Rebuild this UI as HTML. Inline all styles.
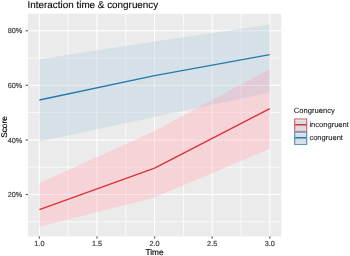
<!DOCTYPE html>
<html><head><meta charset="utf-8"><style>
html,body{margin:0;padding:0;background:#fff;width:350px;height:256px;overflow:hidden}
svg{display:block;font-family:"Liberation Sans",sans-serif}
svg{will-change:transform} text{text-rendering:geometricPrecision;paint-order:stroke}
</style></head><body>
<svg width="350" height="256" viewBox="0 0 350 256">
<defs><clipPath id="cb"><polygon points="39.40,59.30 154.60,41.50 269.80,24.40 269.80,92.50 154.60,117.00 39.40,141.50"/></clipPath></defs>
<rect x="27.9" y="13.75" width="253.4" height="222.65" fill="#EBEBEB"/>
<line x1="68.20" y1="13.75" x2="68.20" y2="236.4" stroke="#fff" stroke-width="0.6"/>
<line x1="125.80" y1="13.75" x2="125.80" y2="236.4" stroke="#fff" stroke-width="0.6"/>
<line x1="183.40" y1="13.75" x2="183.40" y2="236.4" stroke="#fff" stroke-width="0.6"/>
<line x1="241.00" y1="13.75" x2="241.00" y2="236.4" stroke="#fff" stroke-width="0.6"/>
<line x1="27.9" y1="58.04" x2="281.3" y2="58.04" stroke="#fff" stroke-width="0.6"/>
<line x1="27.9" y1="112.62" x2="281.3" y2="112.62" stroke="#fff" stroke-width="0.6"/>
<line x1="27.9" y1="167.21" x2="281.3" y2="167.21" stroke="#fff" stroke-width="0.6"/>
<line x1="27.9" y1="221.79" x2="281.3" y2="221.79" stroke="#fff" stroke-width="0.6"/>
<line x1="39.40" y1="13.75" x2="39.40" y2="236.4" stroke="#fff" stroke-width="0.95"/>
<line x1="97.00" y1="13.75" x2="97.00" y2="236.4" stroke="#fff" stroke-width="0.95"/>
<line x1="154.60" y1="13.75" x2="154.60" y2="236.4" stroke="#fff" stroke-width="0.95"/>
<line x1="212.20" y1="13.75" x2="212.20" y2="236.4" stroke="#fff" stroke-width="0.95"/>
<line x1="269.80" y1="13.75" x2="269.80" y2="236.4" stroke="#fff" stroke-width="0.95"/>
<line x1="27.9" y1="30.75" x2="281.3" y2="30.75" stroke="#fff" stroke-width="0.95"/>
<line x1="27.9" y1="85.33" x2="281.3" y2="85.33" stroke="#fff" stroke-width="0.95"/>
<line x1="27.9" y1="139.92" x2="281.3" y2="139.92" stroke="#fff" stroke-width="0.95"/>
<line x1="27.9" y1="194.50" x2="281.3" y2="194.50" stroke="#fff" stroke-width="0.95"/>
<polygon points="39.40,183.00 154.60,131.00 269.80,69.10 269.80,148.75 154.60,197.50 39.40,226.80" fill="rgb(246,211,215)"/>
<polygon points="39.40,59.30 154.60,41.50 269.80,24.40 269.80,92.50 154.60,117.00 39.40,141.50" fill="rgb(213,224,231)"/>
<polygon points="39.40,183.00 154.60,131.00 269.80,69.10 269.80,148.75 154.60,197.50 39.40,226.80" fill="rgb(226,202,214)" clip-path="url(#cb)"/>
<g><line x1="68.20" y1="13.75" x2="68.20" y2="236.4" stroke="#fff" stroke-width="0.6" stroke-opacity="0.45"/><line x1="125.80" y1="13.75" x2="125.80" y2="236.4" stroke="#fff" stroke-width="0.6" stroke-opacity="0.45"/><line x1="183.40" y1="13.75" x2="183.40" y2="236.4" stroke="#fff" stroke-width="0.6" stroke-opacity="0.45"/><line x1="241.00" y1="13.75" x2="241.00" y2="236.4" stroke="#fff" stroke-width="0.6" stroke-opacity="0.45"/><line x1="27.9" y1="58.04" x2="281.3" y2="58.04" stroke="#fff" stroke-width="0.6" stroke-opacity="0.45"/><line x1="27.9" y1="112.62" x2="281.3" y2="112.62" stroke="#fff" stroke-width="0.6" stroke-opacity="0.45"/><line x1="27.9" y1="167.21" x2="281.3" y2="167.21" stroke="#fff" stroke-width="0.6" stroke-opacity="0.45"/><line x1="27.9" y1="221.79" x2="281.3" y2="221.79" stroke="#fff" stroke-width="0.6" stroke-opacity="0.45"/><line x1="39.40" y1="13.75" x2="39.40" y2="236.4" stroke="#fff" stroke-width="0.95" stroke-opacity="0.45"/><line x1="97.00" y1="13.75" x2="97.00" y2="236.4" stroke="#fff" stroke-width="0.95" stroke-opacity="0.45"/><line x1="154.60" y1="13.75" x2="154.60" y2="236.4" stroke="#fff" stroke-width="0.95" stroke-opacity="0.45"/><line x1="212.20" y1="13.75" x2="212.20" y2="236.4" stroke="#fff" stroke-width="0.95" stroke-opacity="0.45"/><line x1="269.80" y1="13.75" x2="269.80" y2="236.4" stroke="#fff" stroke-width="0.95" stroke-opacity="0.45"/><line x1="27.9" y1="30.75" x2="281.3" y2="30.75" stroke="#fff" stroke-width="0.95" stroke-opacity="0.45"/><line x1="27.9" y1="85.33" x2="281.3" y2="85.33" stroke="#fff" stroke-width="0.95" stroke-opacity="0.45"/><line x1="27.9" y1="139.92" x2="281.3" y2="139.92" stroke="#fff" stroke-width="0.95" stroke-opacity="0.45"/><line x1="27.9" y1="194.50" x2="281.3" y2="194.50" stroke="#fff" stroke-width="0.95" stroke-opacity="0.45"/></g>
<polyline points="39.40,209.70 154.60,168.20 269.80,108.70" fill="none" stroke="rgb(218,50,54)" stroke-width="1.35" stroke-linejoin="round"/>
<polyline points="39.40,100.00 154.60,75.70 269.80,54.70" fill="none" stroke="rgb(36,121,176)" stroke-width="1.35" stroke-linejoin="round"/>
<line x1="39.40" y1="236.4" x2="39.40" y2="238.60" stroke="#666" stroke-width="1.3"/>
<line x1="97.00" y1="236.4" x2="97.00" y2="238.60" stroke="#666" stroke-width="1.3"/>
<line x1="154.60" y1="236.4" x2="154.60" y2="238.60" stroke="#666" stroke-width="1.3"/>
<line x1="212.20" y1="236.4" x2="212.20" y2="238.60" stroke="#666" stroke-width="1.3"/>
<line x1="269.80" y1="236.4" x2="269.80" y2="238.60" stroke="#666" stroke-width="1.3"/>
<line x1="25.70" y1="30.75" x2="27.9" y2="30.75" stroke="#666" stroke-width="1.3"/>
<line x1="25.70" y1="85.33" x2="27.9" y2="85.33" stroke="#666" stroke-width="1.3"/>
<line x1="25.70" y1="139.92" x2="27.9" y2="139.92" stroke="#666" stroke-width="1.3"/>
<line x1="25.70" y1="194.50" x2="27.9" y2="194.50" stroke="#666" stroke-width="1.3"/>
<text x="39.40" y="245.7" font-size="7.3" fill="#474747" stroke="#474747" stroke-width="0.22" text-anchor="middle">1.0</text>
<text x="97.00" y="245.7" font-size="7.3" fill="#474747" stroke="#474747" stroke-width="0.22" text-anchor="middle">1.5</text>
<text x="154.60" y="245.7" font-size="7.3" fill="#474747" stroke="#474747" stroke-width="0.22" text-anchor="middle">2.0</text>
<text x="212.20" y="245.7" font-size="7.3" fill="#474747" stroke="#474747" stroke-width="0.22" text-anchor="middle">2.5</text>
<text x="269.80" y="245.7" font-size="7.3" fill="#474747" stroke="#474747" stroke-width="0.22" text-anchor="middle">3.0</text>
<text x="22.3" y="33" font-size="7.3" fill="#474747" stroke="#474747" stroke-width="0.22" text-anchor="end">80%</text>
<text x="22.3" y="88" font-size="7.3" fill="#474747" stroke="#474747" stroke-width="0.22" text-anchor="end">60%</text>
<text x="22.3" y="143" font-size="7.3" fill="#474747" stroke="#474747" stroke-width="0.22" text-anchor="end">40%</text>
<text x="22.3" y="197" font-size="7.3" fill="#474747" stroke="#474747" stroke-width="0.22" text-anchor="end">20%</text>
<text x="154.6" y="255.0" font-size="8.3" fill="#000" stroke="#000" stroke-width="0.15" text-anchor="middle">Time</text>
<text transform="translate(7.1,127.0) rotate(-90)" x="0" y="0" font-size="8.3" fill="#000" stroke="#000" stroke-width="0.15" text-anchor="middle">Score</text>
<text x="27.6" y="8.0" font-size="9.9" fill="#000" stroke="#000" stroke-width="0.1">Interaction time &amp; congruency</text>
<text x="293.8" y="112.9" font-size="7.6" fill="#111" stroke="#111" stroke-width="0.08">Congruency</text>
<rect x="294.7" y="119.00" width="12.0" height="12.1" fill="rgb(213,223,227)" stroke="rgb(222,84,94)" stroke-width="1.1"/>
<rect x="295.3" y="119.70" width="10.8" height="1.1" fill="rgb(236,230,233)"/>
<rect x="295.3" y="129.40" width="10.8" height="1.1" fill="rgb(236,230,233)"/>
<line x1="295.2" y1="124.75" x2="306.2" y2="124.75" stroke="rgb(218,50,54)" stroke-width="1.5"/>
<text x="309.4" y="126.90" font-size="7.55" fill="#1a1a1a" stroke="#1a1a1a" stroke-width="0.1">incongruent</text>
<rect x="294.7" y="132.20" width="12.0" height="12.1" fill="rgb(213,223,227)" stroke="rgb(70,135,185)" stroke-width="1.1"/>
<rect x="295.3" y="132.90" width="10.8" height="1.1" fill="rgb(236,230,233)"/>
<rect x="295.3" y="142.60" width="10.8" height="1.1" fill="rgb(236,230,233)"/>
<line x1="295.2" y1="137.75" x2="306.2" y2="137.75" stroke="rgb(36,121,176)" stroke-width="1.5"/>
<text x="309.4" y="140.10" font-size="7.55" fill="#1a1a1a" stroke="#1a1a1a" stroke-width="0.1">congruent</text>
</svg>
</body></html>
